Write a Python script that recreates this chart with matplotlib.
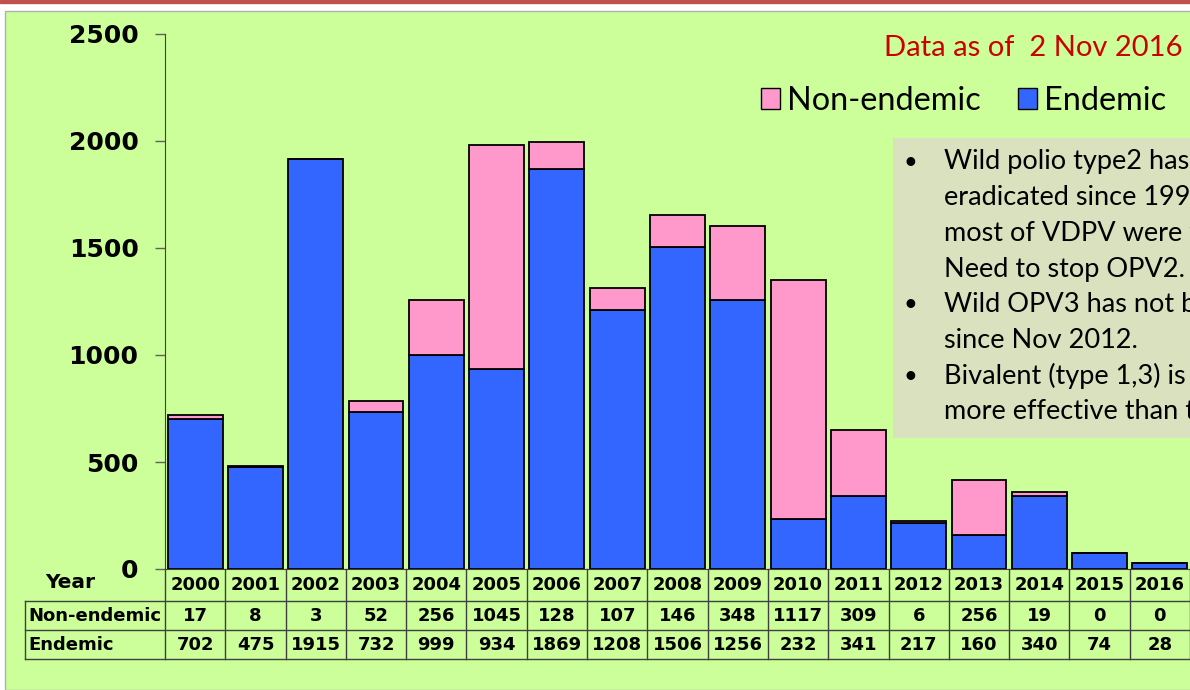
import matplotlib

matplotlib.use("Agg")
import matplotlib.pyplot as plt
import numpy as np
from matplotlib.patches import Patch, Rectangle

years = [str(y) for y in range(2000, 2017)]
non_endemic = [17, 8, 3, 52, 256, 1045, 128, 107, 146, 348, 1117, 309, 6, 256, 19, 0, 0]
endemic = [702, 475, 1915, 732, 999, 934, 1869, 1208, 1506, 1256, 232, 341, 217, 160, 340, 74, 28]
y_ticks = [0, 500, 1000, 1500, 2000, 2500]
row_labels = ["Non-endemic", "Endemic"]
notes = [
    ["Wild polio type2 has", "eradicated since 1999", "most of VDPV were f", "Need to stop OPV2."],
    ["Wild OPV3 has not b", "since Nov 2012."],
    ["Bivalent (type 1,3) is", "more effective than t"],
]

BLUE = "#3366FF"
PINK = "#FF99CC"
GREEN = "#CCFF99"
W, H = 1190, 690

fig = plt.figure(figsize=(W / 100, H / 100), dpi=100)
fig.patch.set_facecolor("white")


def fx(px):
    return px / W


def fy(py):
    return 1 - py / H


# slide decoration
fig.patches.append(Rectangle((0, fy(3)), 1, 3 / H, transform=fig.transFigure,
                             color="#C0504D", zorder=-2))
fig.patches.append(Rectangle((fx(5), 0), 1, fy(11), transform=fig.transFigure,
                             facecolor=GREEN, edgecolor="#B0B0B0", lw=1, zorder=-2))

# main chart
left, right = 165, 1190
top, bottom = 34, 569
ax = fig.add_axes([fx(left), fy(bottom), fx(right - left), (bottom - top) / H])
ax.set_zorder(2)
ax.set_facecolor("none")
x = np.arange(len(years))
ax.bar(x, endemic, width=0.91, color=BLUE, edgecolor="black", lw=1.3, zorder=2)
ax.bar(x, non_endemic, bottom=endemic, width=0.91, color=PINK, edgecolor="black",
       lw=1.3, zorder=2)
ax.set_xlim(-0.5, len(years) - 0.5)
ax.set_ylim(0, 2500)
ax.set_yticks(y_ticks)
ax.set_yticklabels([str(t) for t in y_ticks], fontsize=18, fontweight="bold",
                   family="DejaVu Sans")
ax.tick_params(axis="y", length=7, width=1, color="#606060", pad=12)
ax.set_xticks([])
for s in ["top", "right"]:
    ax.spines[s].set_visible(False)
ax.spines["left"].set_color("#404040")
ax.spines["bottom"].set_color("#404040")

# data table under the chart
tab_left = 25
cw = (right - left) / len(years)
tax = fig.add_axes([fx(tab_left), fy(659), fx(right - tab_left), (659 - bottom) / H])
tax.set_zorder(2)
x0 = -0.5 - (left - tab_left) / cw
tax.set_xlim(x0, len(years) - 0.5)
tax.set_ylim(659, bottom)
tax.axis("off")
line_kw = dict(color="#404040", lw=1, clip_on=False)
for k in range(len(years) + 1):
    tax.plot([k - 0.5, k - 0.5], [bottom, 659], **line_kw)
for yy in [601, 630, 659]:
    tax.plot([x0, len(years) - 0.5], [yy, yy], **line_kw)
tax.plot([x0, x0], [601, 659], **line_kw)
txt_kw = dict(fontsize=13, fontweight="bold", family="DejaVu Sans", va="center")
for i, yr in enumerate(years):
    tax.text(i, 585, yr, ha="center", **txt_kw)
    tax.text(i, 616, str(non_endemic[i]), ha="center", **txt_kw)
    tax.text(i, 645, str(endemic[i]), ha="center", **txt_kw)
tax.text(x0 + 0.06, 616, row_labels[0], ha="left", **txt_kw)
tax.text(x0 + 0.06, 645, row_labels[1], ha="left", **txt_kw)
fig.text(fx(70), fy(583), "Year", ha="center", va="center", fontsize=14.5,
         fontweight="bold", family="DejaVu Sans")

# annotations
fig.text(fx(1183), fy(48), "Data as of  2 Nov 2016", ha="right", va="center",
         color="#CC0000", fontsize=21, family="Lato")
handles = [Patch(facecolor=PINK, edgecolor="black", label="Non-endemic"),
           Patch(facecolor=BLUE, edgecolor="black", label="Endemic")]
fig.legend(handles=handles, loc="center right", bbox_to_anchor=(fx(1166), fy(101)),
           ncol=2, frameon=False, prop={"family": "Lato", "size": 23.3},
           handlelength=0.58, handleheight=0.6, handletextpad=0.22, columnspacing=1.15,
           borderpad=0, borderaxespad=0)

fig.patches.append(Rectangle((fx(893), fy(438)), fx(320), (438 - 138) / H,
                             transform=fig.transFigure, facecolor="#D9E1BE",
                             edgecolor="none", zorder=1))
ly = 162
for block in notes:
    fig.text(fx(910), fy(ly), "\u2022", ha="center", va="center", fontsize=17,
             family="Lato", zorder=3)
    for line in block:
        fig.text(fx(944), fy(ly), line, ha="left", va="center", fontsize=19.5,
                 family="Lato", zorder=3)
        ly += 35.7

fig.savefig("out.png", dpi=100)
